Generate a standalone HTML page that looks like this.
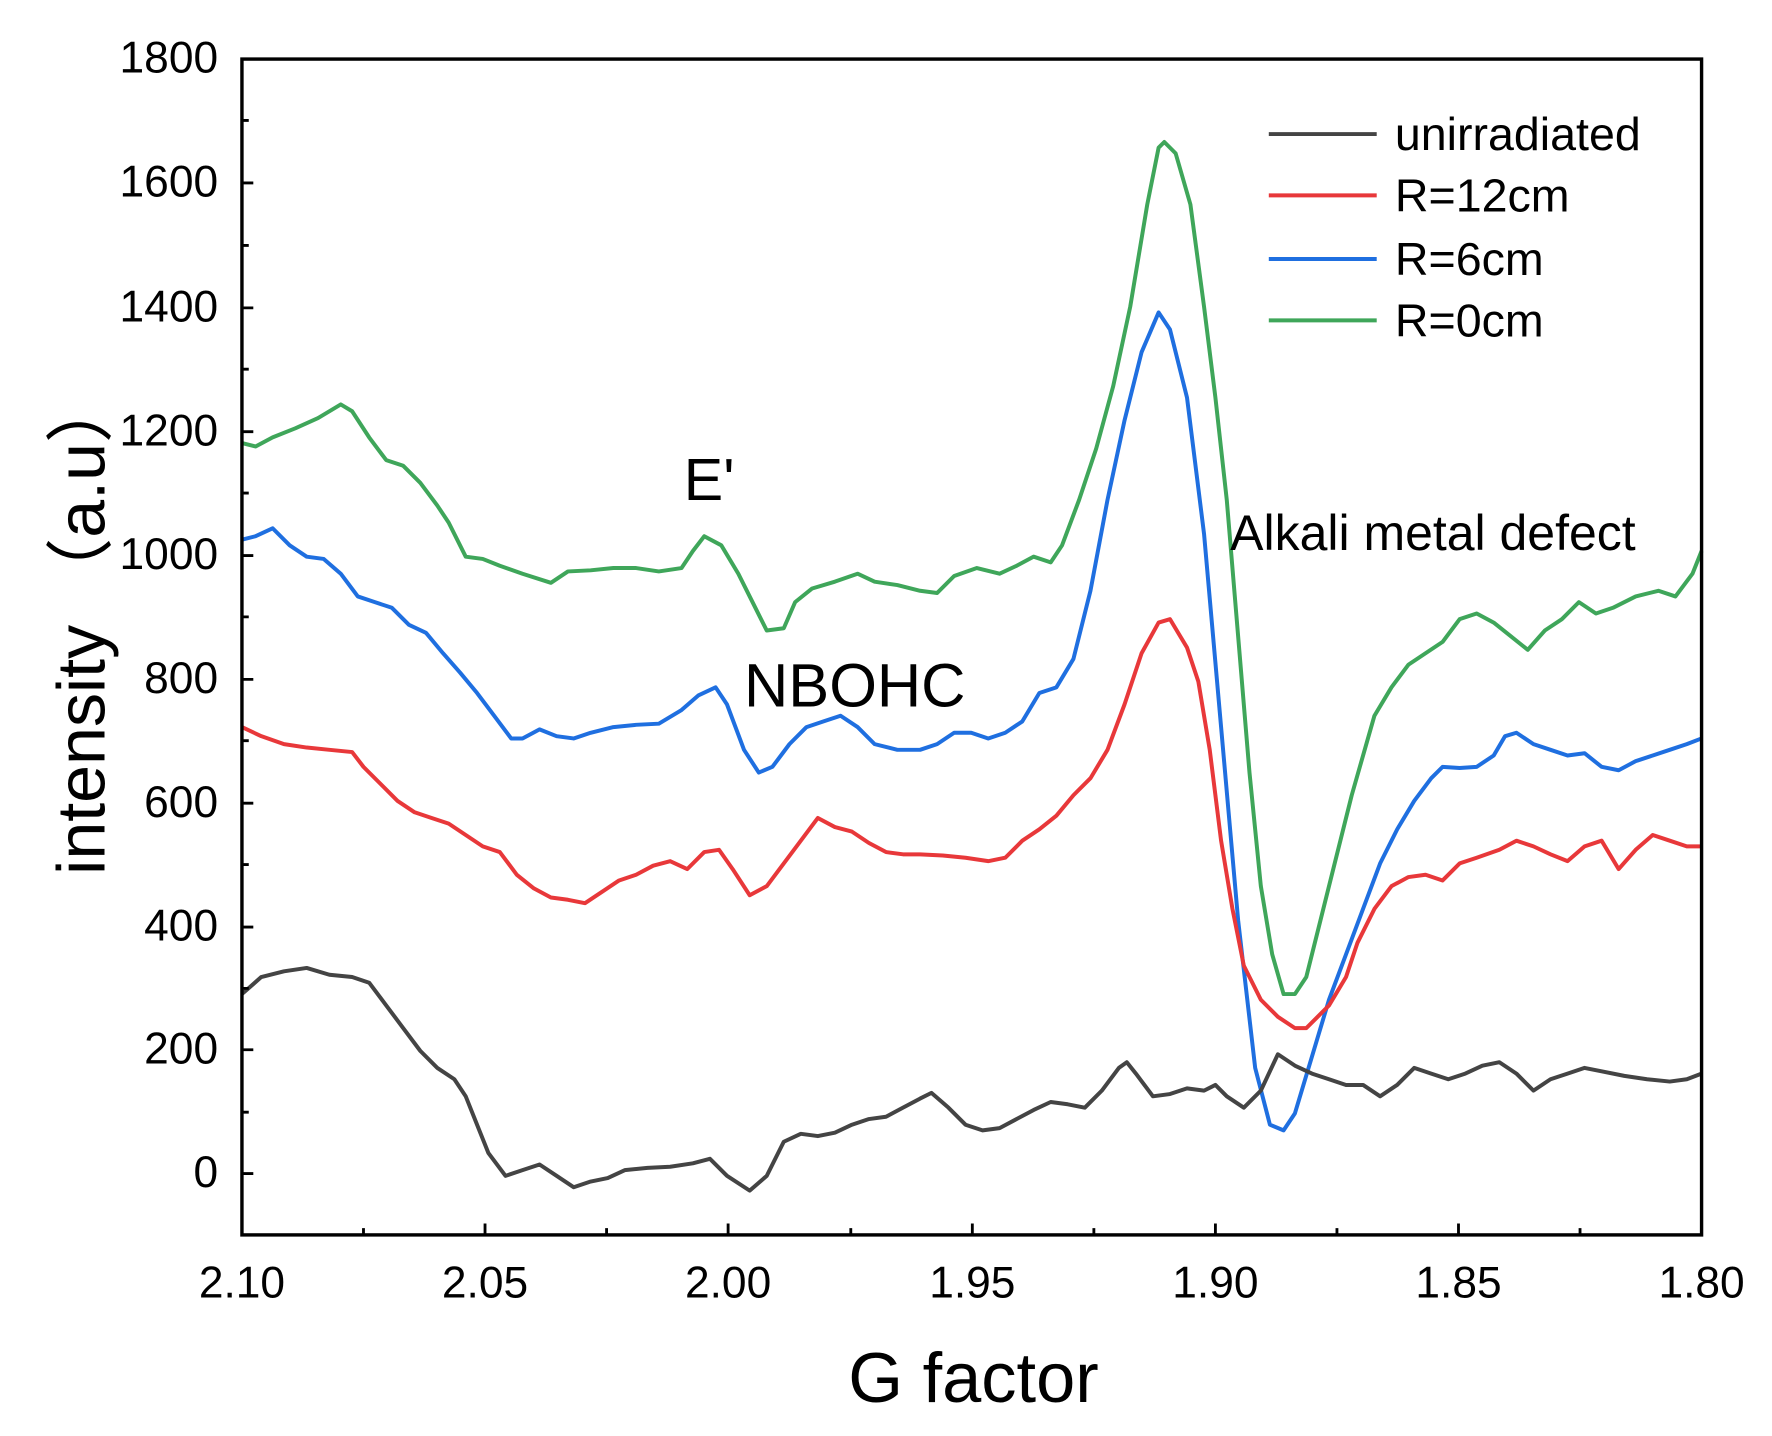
<!DOCTYPE html>
<html><head><meta charset="utf-8"><style>html,body{margin:0;padding:0;background:#fff}svg{display:block}</style></head><body>
<svg width="1772" height="1436" viewBox="0 0 1560 1264" preserveAspectRatio="none" xmlns="http://www.w3.org/2000/svg" font-family="Liberation Sans, Noto Sans CJK SC, sans-serif">
<rect width="1560" height="1264" fill="#fff"/>
<g fill="none" stroke-width="3.5" stroke-linejoin="round">
<polyline stroke="#3fa65a" points="213,390 225,393 240,385 260,377 280,368 300,356 310,362 325,385 340,405 355,410 370,425 385,445 395,460 410,490 425,492 440,498 460,505 485,513 500,503 520,502 540,500 560,500 580,503 600,500 610,485 620,472 635,480 650,505 665,535 675,555 690,553 700,530 715,518 735,512 755,505 770,512 790,515 810,520 825,522 840,507 860,500 880,505 895,498 910,490 925,495 935,480 950,440 965,395 980,340 995,270 1010,180 1020,130 1025,125 1035,135 1048,180 1060,270 1070,350 1080,440 1090,560 1100,680 1110,780 1120,840 1130,875 1140,875 1150,860 1160,820 1175,760 1190,700 1210,630 1225,605 1240,585 1255,575 1270,565 1285,545 1300,540 1315,548 1330,560 1345,572 1360,555 1375,545 1390,530 1405,540 1420,535 1440,525 1460,520 1475,525 1490,505 1498,485"/>
<polyline stroke="#1f6fe0" points="213,475 225,472 240,465 255,480 270,490 285,492 300,505 315,525 330,530 345,535 360,550 375,557 390,575 405,592 420,610 435,630 450,650 460,650 475,642 490,648 505,650 520,645 540,640 560,638 580,637 600,625 615,612 630,605 640,620 655,660 668,680 680,675 695,655 710,640 725,635 740,630 755,640 770,655 790,660 810,660 825,655 840,645 855,645 870,650 885,645 900,635 915,610 930,605 945,580 960,520 975,440 990,370 1005,310 1020,275 1030,290 1045,350 1060,470 1075,640 1090,810 1105,940 1118,990 1130,995 1140,980 1155,930 1170,880 1185,840 1200,800 1215,760 1230,730 1245,705 1260,685 1270,675 1285,676 1300,675 1315,665 1325,648 1335,645 1350,655 1365,660 1380,665 1395,663 1410,675 1425,678 1440,670 1455,665 1470,660 1485,655 1498,650"/>
<polyline stroke="#e8383a" points="213,640 230,648 250,655 270,658 290,660 310,662 320,675 335,690 350,705 365,715 380,720 395,725 410,735 425,745 440,750 455,770 470,782 485,790 500,792 515,795 530,785 545,775 560,770 575,762 590,758 605,765 620,750 633,748 645,765 660,788 675,780 690,760 705,740 720,720 735,728 750,732 765,742 780,750 795,752 810,752 830,753 850,755 870,758 885,755 900,740 915,730 930,718 945,700 960,685 975,660 990,620 1005,575 1020,548 1030,545 1045,570 1055,600 1065,660 1075,740 1085,800 1095,850 1110,880 1125,895 1140,905 1150,905 1160,895 1170,885 1185,860 1195,830 1210,800 1225,780 1240,772 1255,770 1270,775 1285,760 1300,755 1320,748 1335,740 1350,745 1365,752 1380,758 1395,745 1410,740 1425,765 1440,748 1455,735 1470,740 1485,745 1498,745"/>
<polyline stroke="#444" points="213,875 230,860 250,855 270,852 290,858 310,860 325,865 340,885 355,905 370,925 385,940 400,950 410,965 420,990 430,1015 445,1035 460,1030 475,1025 490,1035 505,1045 520,1040 535,1037 550,1030 570,1028 590,1027 610,1024 625,1020 640,1035 660,1048 675,1035 690,1005 705,998 720,1000 735,997 750,990 765,985 780,983 795,975 810,967 820,962 835,975 850,990 865,995 880,993 895,985 910,977 925,970 940,972 955,975 970,960 985,940 992,935 1000,945 1015,965 1030,963 1045,958 1060,960 1070,955 1080,965 1095,975 1110,960 1125,928 1140,938 1155,945 1170,950 1185,955 1200,955 1215,965 1230,955 1245,940 1260,945 1275,950 1290,945 1305,938 1320,935 1335,945 1350,960 1365,950 1380,945 1395,940 1410,943 1430,947 1450,950 1470,952 1485,950 1498,945"/>
</g>
<rect x="213" y="52" width="1285" height="1035" fill="none" stroke="#000" stroke-width="3"/>
<g stroke="#000" stroke-width="2.5">
<path d="M213,52h10M213,161h10M213,271h10M213,380h10M213,489h10M213,598h10M213,707h10M213,816h10M213,924h10M213,1033h10"/>
<path d="M213,106h6M213,216h6M213,325h6M213,434h6M213,543h6M213,652h6M213,761h6M213,870h6M213,979h6"/>
<path d="M427,1087v-10M641,1087v-10M856,1087v-10M1070,1087v-10M1284,1087v-10"/>
<path d="M320,1087v-6M534,1087v-6M749,1087v-6M963,1087v-6M1177,1087v-6M1391,1087v-6"/>
</g>
<g font-size="39" fill="#000" text-anchor="end">
<text x="192" y="64">1800</text><text x="192" y="173">1600</text><text x="192" y="283">1400</text><text x="192" y="392">1200</text><text x="192" y="501">1000</text><text x="192" y="610">800</text><text x="192" y="719">600</text><text x="192" y="828">400</text><text x="192" y="936">200</text><text x="192" y="1045">0</text>
</g>
<g font-size="39" fill="#000" text-anchor="middle">
<text x="213" y="1142">2.10</text><text x="427" y="1142">2.05</text><text x="641" y="1142">2.00</text><text x="856" y="1142">1.95</text><text x="1070" y="1142">1.90</text><text x="1284" y="1142">1.85</text><text x="1498" y="1142">1.80</text>
</g>
<text x="857" y="1234" font-size="62" text-anchor="middle">G factor</text>
<text transform="translate(92,550) rotate(-90)" font-size="60" text-anchor="middle">intensity （a.u）</text>
<g stroke-width="3.5">
<line x1="1117" y1="118" x2="1212" y2="118" stroke="#444"/>
<line x1="1117" y1="172" x2="1212" y2="172" stroke="#e8383a"/>
<line x1="1117" y1="228" x2="1212" y2="228" stroke="#1f6fe0"/>
<line x1="1117" y1="282" x2="1212" y2="282" stroke="#3fa65a"/>
</g>
<g font-size="41" fill="#000">
<text x="1228" y="132">unirradiated</text><text x="1228" y="186">R=12cm</text><text x="1228" y="242">R=6cm</text><text x="1228" y="296">R=0cm</text>
</g>
<g fill="#000">
<text x="602" y="440" font-size="52">E'</text>
<text x="655" y="622" font-size="54">NBOHC</text>
<text x="1083" y="484" font-size="44">Alkali metal defect</text>
</g>
</svg>
</body></html>
